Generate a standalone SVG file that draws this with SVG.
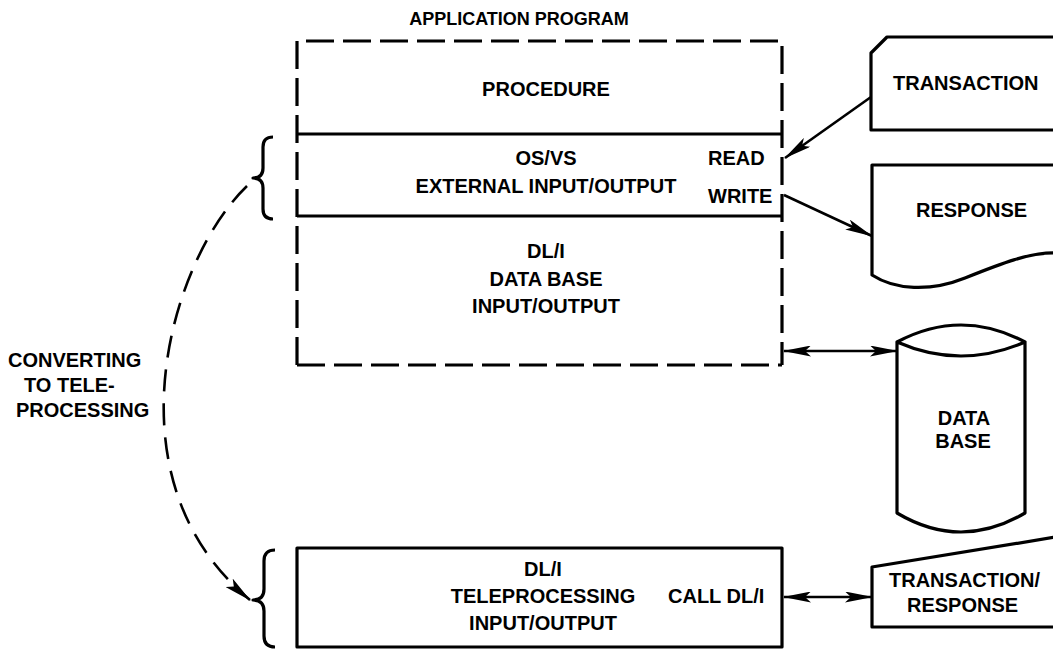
<svg xmlns="http://www.w3.org/2000/svg" width="1053" height="649" viewBox="0 0 1053 649">
<style>
text{font-family:"Liberation Sans",Arial,sans-serif;font-weight:bold;font-size:20px;fill:#000}
.c{text-anchor:middle}
.s{fill:none;stroke:#000;stroke-width:3.2;stroke-linejoin:round}
.d{fill:none;stroke:#000;stroke-width:3.2;stroke-dasharray:28 9}
.a{fill:none;stroke:#000;stroke-width:2.6}
</style>
<defs>
<marker id="ah" viewBox="0 0 28 11" refX="27" refY="5.5" markerWidth="28" markerHeight="11" orient="auto-start-reverse" markerUnits="userSpaceOnUse">
<path d="M0,0 L28,5.5 L0,11 L6,5.5 z" fill="#000"/>
</marker>
</defs>
<rect width="1053" height="649" fill="#fff"/>
<text class="c" x="519" y="25" style="font-size:18px">APPLICATION PROGRAM</text>
<g id="appProgram">
<path class="d" d="M297,365 V41 H782 V365"/>
<path class="d" d="M297,365 H782"/>
<path class="s" d="M297,134 H782 M297,216 H782"/>
<text class="c" x="546" y="96">PROCEDURE</text>
<text class="c" x="546" y="165">OS/VS</text>
<text class="c" x="546" y="193">EXTERNAL INPUT/OUTPUT</text>
<text x="708" y="165">READ</text>
<text x="708" y="203">WRITE</text>
<text class="c" x="546" y="258">DL/I</text>
<text class="c" x="546" y="286">DATA BASE</text>
<text class="c" x="546" y="313">INPUT/OUTPUT</text>
</g>
<g id="braceTop"><path class="s" d="M273,137 q-10,0 -10,10 v21 q0,10 -10,10 q10,0 10,10 v21 q0,10 10,10"/></g>
<g id="tpBox">
<rect class="s" x="297" y="548" width="485" height="99"/>
<text class="c" x="543" y="576">DL/I</text>
<text class="c" x="543" y="603">TELEPROCESSING</text>
<text class="c" x="543" y="630">INPUT/OUTPUT</text>
<text x="668" y="603">CALL DL/I</text>
</g>
<g id="braceBottom"><path class="s" d="M275,550 q-11,0 -11,11 v28 q0,11 -11,11 q11,0 11,11 v25 q0,11 11,11"/></g>
<g id="converting">
<text x="8" y="367">CONVERTING</text>
<text x="24" y="392">TO TELE-</text>
<text x="16" y="417">PROCESSING</text>
</g>
<g id="transaction">
<path class="s" d="M1056,37 H887 L871,53 V130 H1056"/>
<text x="893" y="90">TRANSACTION</text>
</g>
<g id="response">
<path class="s" d="M1056,165 H872 V275 C895,290 930,292 965,278 S1030,252 1056,253"/>
<text x="916" y="217">RESPONSE</text>
</g>
<g id="database">
<path class="s" d="M897,342 Q961,308 1025,342 Q961,370 897,342 Z M897,342 V513 Q961,551 1025,513 V342"/>
<text class="c" x="964" y="425">DATA</text>
<text class="c" x="963" y="448">BASE</text>
</g>
<g id="txResponse">
<path class="s" d="M1056,537 L872,567 V627 H1056"/>
<text x="889" y="587">TRANSACTION/</text>
<text x="907" y="612">RESPONSE</text>
</g>
<g id="connectors">
<line class="a" x1="871" y1="97" x2="785" y2="158" marker-end="url(#ah)"/>
<line class="a" x1="784" y1="195" x2="872" y2="236" marker-end="url(#ah)"/>
<line class="a" x1="784" y1="351" x2="897" y2="351" marker-start="url(#ah)" marker-end="url(#ah)"/>
<line class="a" x1="784" y1="597" x2="872" y2="597" marker-start="url(#ah)" marker-end="url(#ah)"/>
<path class="a" stroke-width="3" stroke-dasharray="22 12" d="M247,186 C170,260 105,480 250,600" marker-end="url(#ah)"/>
</g>
</svg>
